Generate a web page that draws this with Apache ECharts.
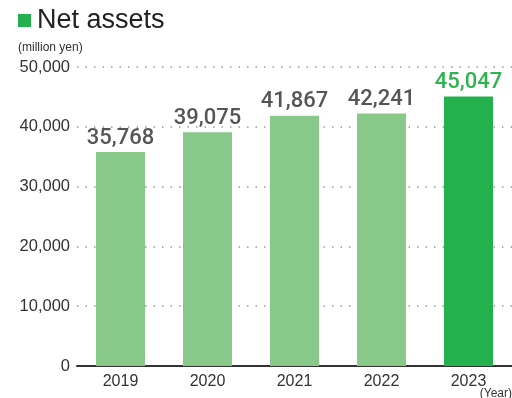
<!DOCTYPE html>
<html>
<head>
<meta charset="utf-8">
<script src="https://cdn.jsdelivr.net/npm/echarts@6/dist/echarts.min.js"></script>
<style>
  html, body { margin: 0; padding: 0; background: #fff; }
  #chart { width: 512px; height: 398px; }
</style>
</head>
<body>
<div id="chart"></div>
<script>
// Net assets by fiscal year (million yen)
const years = ['2019', '2020', '2021', '2022', '2023'];
const netAssets = [35768, 39075, 41867, 42241, 45047];
const yTicks = [0, 10000, 20000, 30000, 40000, 50000];

const pastColor = '#88c98a';
const latestColor = '#22b14c';
const baseFont = '"Liberation Sans", Arial, sans-serif';

const fmt = v => v.toLocaleString('en-US');

const chart = echarts.init(document.getElementById('chart'), null, { renderer: 'canvas' });

chart.setOption({
  animation: false,
  grid: { left: 77, right: 0, top: 67, bottom: 32 },
  graphic: [
    { type: 'rect', left: 18, top: 14, shape: { width: 13, height: 13 }, style: { fill: latestColor } },
    { type: 'text', left: 37, top: 7, style: { text: 'Net assets', font: '27px ' + baseFont, fill: '#222' } },
    { type: 'text', left: 18, top: 42, style: { text: '(million yen)', font: '12px ' + baseFont, fill: '#333' } },
    { type: 'text', right: 0, top: 388, style: { text: '(Year)', font: '12px ' + baseFont, fill: '#333' } }
  ],
  xAxis: {
    type: 'category',
    data: years,
    axisLine: { lineStyle: { color: '#333', width: 2 } },
    axisTick: { show: false },
    axisLabel: { color: '#333', fontSize: 16, fontFamily: baseFont, margin: 8 }
  },
  yAxis: {
    type: 'value',
    min: yTicks[0],
    max: yTicks[yTicks.length - 1],
    interval: 10000,
    axisLine: { show: false },
    axisTick: { show: false },
    axisLabel: {
      color: '#333', fontSize: 16.5, margin: 7,
      fontFamily: baseFont,
      formatter: v => fmt(v)
    },
    splitLine: { lineStyle: { color: '#999', type: [1.5, 7], width: 1.5 } }
  },
  series: [{
    type: 'bar',
    barWidth: 49,
    data: netAssets.map((v, i) => ({
      value: v,
      itemStyle: { color: i === netAssets.length - 1 ? latestColor : pastColor },
      label: { color: i === netAssets.length - 1 ? '#2db34f' : '#555' }
    })),
    label: {
      show: true,
      position: 'top',
      distance: 3,
      fontSize: 22,
      fontWeight: 500,
      fontFamily: 'Roboto, "DejaVu Sans", sans-serif',
      formatter: p => fmt(p.value)
    }
  }]
});
</script>
</body>
</html>
